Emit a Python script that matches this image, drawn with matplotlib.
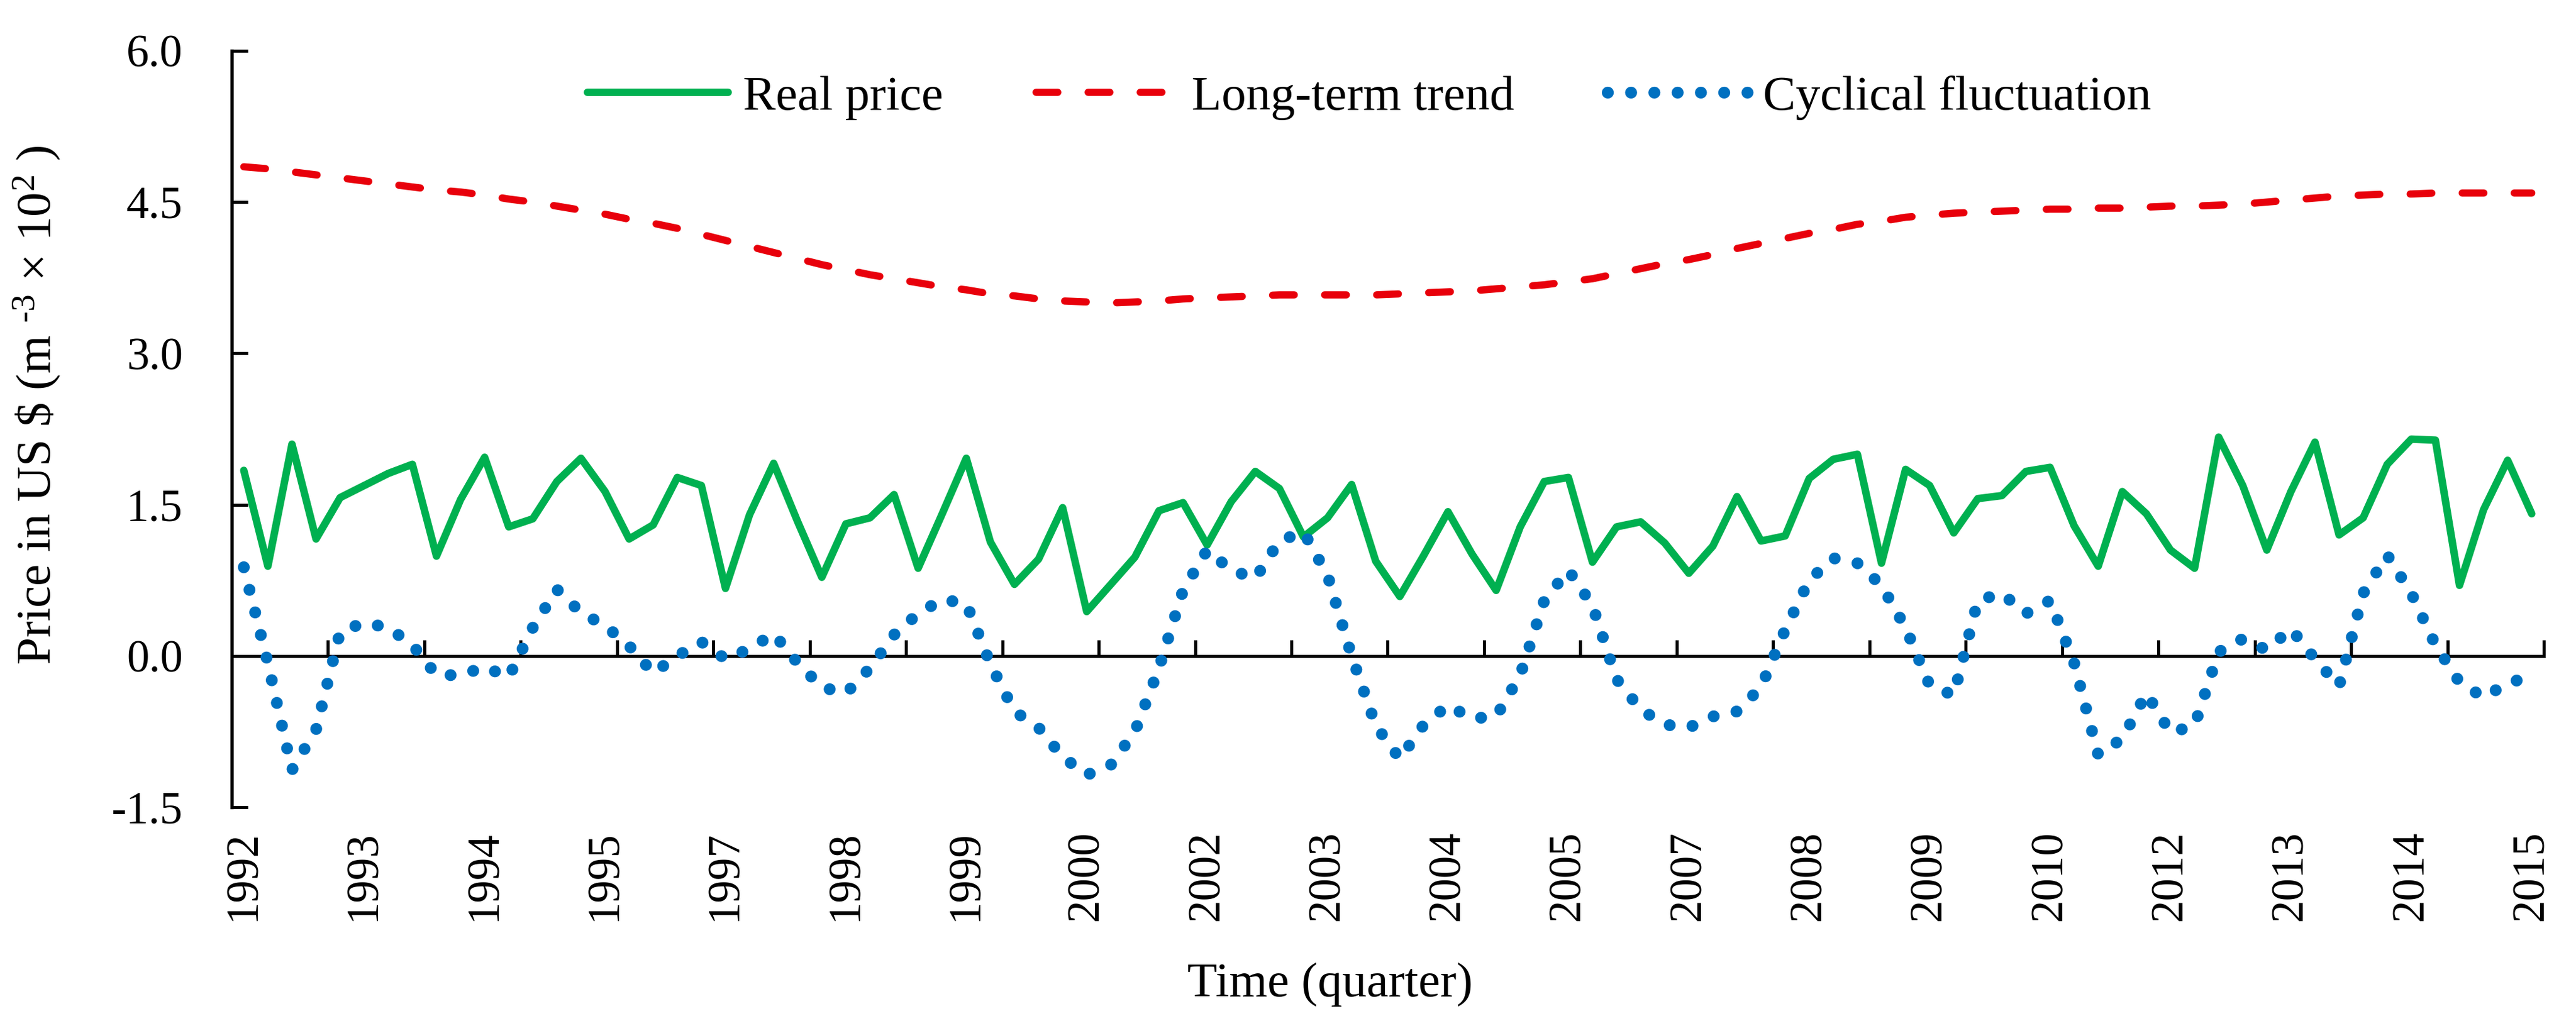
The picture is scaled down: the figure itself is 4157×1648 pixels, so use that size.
import numpy as np
import matplotlib
matplotlib.use("Agg")
import matplotlib.pyplot as plt

# ---------------- data (quarterly, 1992Q1 .. 2015Q4) ----------------
real_price = [
    1.84, 0.89, 2.10, 1.16, 1.57, 1.69, 1.81, 1.90, 0.99, 1.55,
    1.97, 1.28, 1.36, 1.73, 1.96, 1.63, 1.16, 1.30, 1.77, 1.69,
    0.67, 1.40, 1.91, 1.33, 0.78, 1.31, 1.37, 1.60, 0.87, 1.41,
    1.96, 1.13, 0.71, 0.96, 1.47, 0.44, 0.71, 0.98, 1.44, 1.52,
    1.10, 1.53, 1.83, 1.66, 1.18, 1.37, 1.70, 0.94, 0.59, 1.00,
    1.43, 1.01, 0.65, 1.28, 1.73, 1.77, 0.93, 1.28, 1.33, 1.12,
    0.82, 1.09, 1.58, 1.14, 1.19, 1.76, 1.95, 2.00, 0.92, 1.85,
    1.69, 1.22, 1.56, 1.59, 1.83, 1.87, 1.29, 0.89, 1.63, 1.41,
    1.05, 0.87, 2.17, 1.69, 1.05, 1.63, 2.12, 1.20, 1.37, 1.90,
    2.15, 2.14, 0.70, 1.45, 1.94, 1.41,
]

long_term_trend = [
    4.85, 4.83, 4.80, 4.77, 4.74, 4.71, 4.68, 4.65, 4.62, 4.60,
    4.57, 4.53, 4.50, 4.46, 4.42, 4.38, 4.33, 4.29, 4.24, 4.18,
    4.12, 4.06, 4.00, 3.94, 3.88, 3.83, 3.78, 3.74, 3.70, 3.66,
    3.63, 3.59, 3.57, 3.54, 3.52, 3.51, 3.50, 3.51, 3.52, 3.54,
    3.55, 3.56, 3.57, 3.58, 3.58, 3.58, 3.58, 3.58, 3.59, 3.60,
    3.61, 3.62, 3.64, 3.66, 3.68, 3.71, 3.74, 3.79, 3.84, 3.89,
    3.93, 3.98, 4.04, 4.09, 4.14, 4.19, 4.23, 4.28, 4.31, 4.35,
    4.37, 4.39, 4.40, 4.41, 4.42, 4.43, 4.43, 4.44, 4.44, 4.45,
    4.46, 4.46, 4.47, 4.48, 4.50, 4.52, 4.54, 4.56, 4.57, 4.58,
    4.58, 4.59, 4.59, 4.59, 4.59, 4.59,
]

cyclical = [
    0.88, -0.07, -1.13, -0.73, 0.24, 0.33, 0.28, 0.11, -0.19, -0.19,
    -0.11, -0.21, 0.28, 0.66, 0.43, 0.30, 0.10, -0.17, 0.00, 0.14,
    -0.03, 0.07, 0.22, -0.07, -0.31, -0.37, -0.12, 0.21, 0.42, 0.56,
    0.52, -0.08, -0.55, -0.71, -1.00, -1.18, -1.08, -0.75, -0.12, 0.65,
    1.05, 0.85, 0.77, 1.14, 1.23, 0.80, 0.00, -0.69, -1.02, -0.68,
    -0.49, -0.62, -0.60, -0.19, 0.55, 0.85, 0.50, -0.23, -0.53, -0.68,
    -0.71, -0.60, -0.55, -0.31, 0.26, 0.75, 0.97, 0.92, 0.70, 0.28,
    -0.29, -0.39, 0.55, 0.62, 0.42, 0.55, -0.07, -0.98, -0.82, -0.37,
    -0.76, -0.69, 0.04, 0.17, 0.06, 0.27, -0.03, -0.30, 0.62, 1.00,
    0.62, 0.11, -0.26, -0.41, -0.27, -0.20,
]

year_labels = ["1992", "1993", "1994", "1995", "1997", "1998", "1999", "2000",
               "2002", "2003", "2004", "2005", "2007", "2008", "2009", "2010",
               "2012", "2013", "2014", "2015"]
y_ticks = [-1.5, 0.0, 1.5, 3.0, 4.5, 6.0]

series_names = ["Real price", "Long-term trend", "Cyclical fluctuation"]
y_label = r"Price in US \$ (m $^{\text{-3}}$ × 10$^{\text{2}}$ )"
x_label = "Time (quarter)"

# ---------------- style ----------------
plt.rcParams['font.family'] = ['Liberation Serif', 'DejaVu Serif']
plt.rcParams['mathtext.fontset'] = 'custom'
plt.rcParams['mathtext.rm'] = 'Liberation Serif'
plt.rcParams['mathtext.it'] = 'Liberation Serif:italic'
plt.rcParams['axes.unicode_minus'] = False

W, H, DPI = 4157, 1648, 300
fig = plt.figure(figsize=(W / DPI, H / DPI), dpi=DPI)
L, R, T, B = 374, 4105, 82, 1303
ax = fig.add_axes([L / W, 1 - B / H, (R - L) / W, (B - T) / H])

x = np.arange(len(real_price))
ax.plot(x, real_price, color='#00B050', lw=2.9, solid_joinstyle='round',
        solid_capstyle='round', label=series_names[0], zorder=3)
ax.plot(x, long_term_trend, color='#E8000B', lw=2.8, linestyle=(0, (3.0, 4.2)),
        dash_capstyle='round', label=series_names[1], zorder=4)
ax.plot(x, cyclical, color='#0070C0', lw=4.6, linestyle=(0, (0.01, 1.95)),
        dash_capstyle='round', label=series_names[2], zorder=5)

ax.set_xlim(-0.5, len(real_price) - 0.5)
ax.set_ylim(-1.5, 6.0)

for s in ('top', 'right'):
    ax.spines[s].set_visible(False)
ax.spines['bottom'].set_position(('data', 0))
ax.spines['bottom'].set_linewidth(1.2)
ax.spines['left'].set_linewidth(1.3)

# tick marks on the zero line, one per year boundary
ax.set_xticks(np.arange(-0.5, len(real_price), 4))
ax.tick_params(axis='x', direction='in', length=6.3, width=1.2, labelbottom=False)

ax.set_yticks(y_ticks)
ax.set_yticklabels([f"{v:.1f}" for v in y_ticks])
ax.tick_params(axis='y', direction='in', length=6.2, width=1.2, pad=19, labelsize=17.5)

# year labels at the bottom of the plot area
sec = ax.secondary_xaxis('bottom')
sec.set_xticks(np.arange(0, len(real_price), 5), labels=year_labels)
sec.tick_params(axis='x', length=0, pad=8.9, labelsize=17.5, labelrotation=90)
sec.spines['bottom'].set_visible(False)

ax.legend(loc='center', bbox_to_anchor=(2210 / W, 1 - 158 / H),
          bbox_transform=fig.transFigure, ncol=3, frameon=False,
          handlelength=2.87, handletextpad=0.3, columnspacing=1.9,
          borderpad=0, fontsize=19)

fig.text(2146 / W, 1 - 1608 / H, x_label, ha='center', va='baseline', fontsize=19)
fig.text(60 / W, 1 - 654 / H, y_label, rotation=90, ha='center', va='center', fontsize=19)

fig.savefig('out.png', dpi=DPI)
